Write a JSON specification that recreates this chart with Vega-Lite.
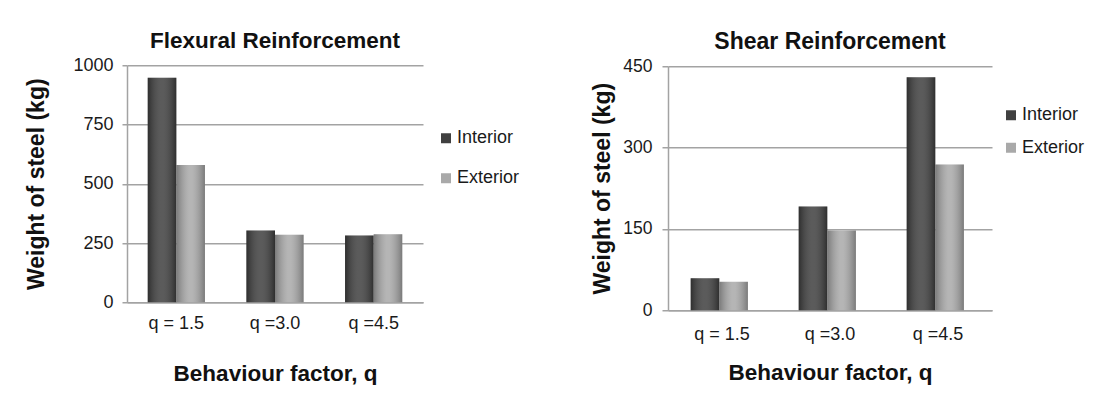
{
  "$schema": "https://vega.github.io/schema/vega-lite/v6.json",
  "background": "white",
  "padding": {"left": 25, "top": 29, "right": 0, "bottom": 0},
  "spacing": 71,
  "center": true,
  "resolve": {"scale": {"color": "independent"}, "legend": {"color": "independent"}},
  "config": {
    "font": "Liberation Sans",
    "view": {"stroke": null},
    "axis": {
      "gridColor": "#a3a3a3", "gridWidth": 1.5,
      "domainColor": "#a3a3a3", "domainWidth": 1.5,
      "tickColor": "#a3a3a3", "tickWidth": 1.5,
      "labelColor": "#1a1a1a", "titleColor": "#111111",
      "labelFont": "Liberation Sans", "titleFont": "Liberation Sans",
      "titleFontWeight": "bold"
    },
    "title": {"font": "Liberation Sans", "fontWeight": "bold", "color": "#111111", "anchor": "middle"},
    "legend": {"labelFont": "Liberation Sans", "labelColor": "#1a1a1a"}
  },
  "hconcat": [
    {
      "width": 296,
      "height": 237,
      "title": {"text": "Flexural Reinforcement", "fontSize": 22.5, "offset": 4},
      "data": {"values": [
        {"q": "q = 1.5", "series": "Interior", "weight": 947},
        {"q": "q = 1.5", "series": "Exterior", "weight": 579},
        {"q": "q =3.0", "series": "Interior", "weight": 303},
        {"q": "q =3.0", "series": "Exterior", "weight": 285},
        {"q": "q =4.5", "series": "Interior", "weight": 282},
        {"q": "q =4.5", "series": "Exterior", "weight": 287}
      ]},
      "encoding": {
        "x": {"field": "q", "type": "nominal", "sort": null,
          "scale": {"paddingInner": 0.42, "paddingOuter": 0.21},
          "axis": {"title": "Behaviour factor, q", "labelAngle": 0, "ticks": false, "tickSize": 0, "labelPadding": 12, "labelFontSize": 18, "titleFontSize": 22.5, "titlePadding": 30, "grid": false}},
        "xOffset": {"field": "series", "type": "nominal", "sort": ["Interior", "Exterior"], "scale": {"paddingInner": 0, "paddingOuter": 0}},
        "y": {"field": "weight", "type": "quantitative", "scale": {"domain": [0, 1000]},
          "axis": {"title": "Weight of steel (kg)", "format": "d", "values": [0, 250, 500, 750, 1000], "tickSize": 5, "labelPadding": 9, "labelFontSize": 18, "titleFontSize": 23, "titlePadding": 24}}
      },
      "layer": [
        {
          "mark": {"type": "bar"},
          "encoding": {
            "color": {"field": "series", "type": "nominal", "sort": ["Interior", "Exterior"],
              "scale": {"domain": ["Interior", "Exterior"], "range": ["#404040", "#a9a9a9"]},
              "legend": {"title": null, "orient": "none", "legendX": 310, "legendY": 64, "symbolType": "square", "symbolSize": 100, "labelFontSize": 18, "rowPadding": 22, "labelOffset": 2, "padding": 0}}
          }
        },
        {
          "mark": {"type": "bar", "fill": {"gradient": "linear", "x1": 0, "y1": 0, "x2": 1, "y2": 0, "stops": [
            {"offset": 0, "color": "rgba(0,0,0,0.28)"},
            {"offset": 0.45, "color": "rgba(255,255,255,0.14)"},
            {"offset": 0.55, "color": "rgba(255,255,255,0.14)"},
            {"offset": 1, "color": "rgba(0,0,0,0.28)"}
          ]}}
        }
      ]
    },
    {
      "width": 324,
      "height": 244,
      "title": {"text": "Shear Reinforcement", "fontSize": 23, "offset": 3},
      "data": {"values": [
        {"q": "q = 1.5", "series": "Interior", "weight": 59},
        {"q": "q = 1.5", "series": "Exterior", "weight": 52.5},
        {"q": "q =3.0", "series": "Interior", "weight": 191.5},
        {"q": "q =3.0", "series": "Exterior", "weight": 147},
        {"q": "q =4.5", "series": "Interior", "weight": 429.5},
        {"q": "q =4.5", "series": "Exterior", "weight": 269}
      ]},
      "encoding": {
        "x": {"field": "q", "type": "nominal", "sort": null,
          "scale": {"paddingInner": 0.42, "paddingOuter": 0.21},
          "axis": {"title": "Behaviour factor, q", "labelAngle": 0, "ticks": false, "tickSize": 0, "labelPadding": 15, "labelFontSize": 18, "titleFontSize": 22.5, "titlePadding": 18, "grid": false}},
        "xOffset": {"field": "series", "type": "nominal", "sort": ["Interior", "Exterior"], "scale": {"paddingInner": 0, "paddingOuter": 0}},
        "y": {"field": "weight", "type": "quantitative", "scale": {"domain": [0, 450]},
          "axis": {"title": "Weight of steel (kg)", "values": [0, 150, 300, 450], "tickSize": 6, "labelPadding": 10, "labelFontSize": 17.5, "titleFontSize": 23, "titlePadding": 8}}
      },
      "layer": [
        {
          "mark": {"type": "bar"},
          "encoding": {
            "color": {"field": "series", "type": "nominal", "sort": ["Interior", "Exterior"],
              "scale": {"domain": ["Interior", "Exterior"], "range": ["#404040", "#a9a9a9"]},
              "legend": {"title": null, "orient": "none", "legendX": 334, "legendY": 40, "symbolType": "square", "symbolSize": 100, "labelFontSize": 18, "rowPadding": 14.5, "labelOffset": 2, "padding": 0}}
          }
        },
        {
          "mark": {"type": "bar", "fill": {"gradient": "linear", "x1": 0, "y1": 0, "x2": 1, "y2": 0, "stops": [
            {"offset": 0, "color": "rgba(0,0,0,0.28)"},
            {"offset": 0.45, "color": "rgba(255,255,255,0.14)"},
            {"offset": 0.55, "color": "rgba(255,255,255,0.14)"},
            {"offset": 1, "color": "rgba(0,0,0,0.28)"}
          ]}}
        }
      ]
    }
  ]
}
